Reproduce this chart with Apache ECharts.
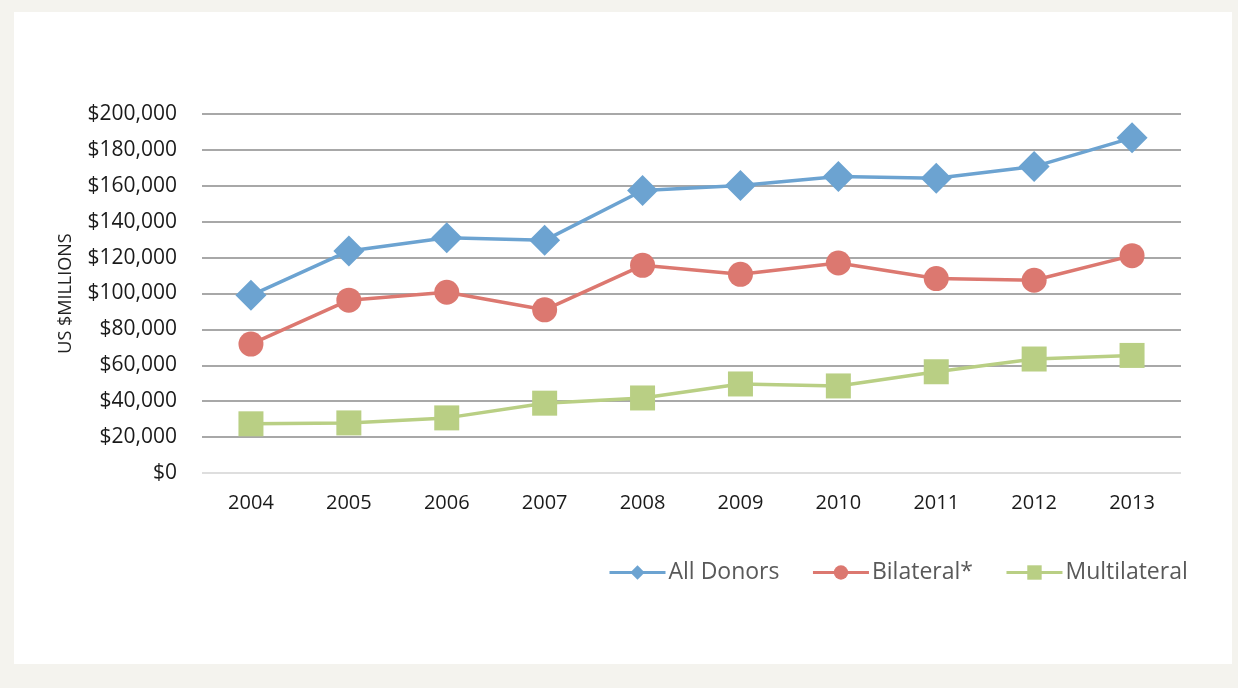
<!DOCTYPE html>
<html>
<head>
<meta charset="utf-8">
<title>Aid by donor type, 2004–2013</title>
<script src="https://cdn.jsdelivr.net/npm/echarts@6/dist/echarts.min.js"></script>
<style>
  html, body { margin: 0; padding: 0; width: 1238px; height: 688px; background: #f4f3ee; overflow: hidden; }
  #panel { position: absolute; left: 14px; top: 12px; width: 1218px; height: 652px; background: #ffffff; }
  #chart { position: absolute; left: 0; top: 0; width: 1238px; height: 688px; }
</style>
</head>
<body>
<div id="panel"></div>
<div id="chart"></div>
<script>
// Years on the category axis
const years = ['2004', '2005', '2006', '2007', '2008', '2009', '2010', '2011', '2012', '2013'];

// Totals in US $ millions
const allDonors    = [99000, 123700, 131100, 129600, 157400, 160200, 165200, 164200, 170700, 186700];
const bilateral    = [71800, 96300, 100700, 90900, 115700, 110700, 117000, 108300, 107400, 121100];
const multilateral = [27400, 27900, 30700, 38900, 41800, 49600, 48500, 56400, 63500, 65500];

// Value axis ticks
const yMin = 0;
const yMax = 200000;
const yStep = 20000;

const FONT = '"Open Sans", "Liberation Sans", sans-serif';

const gridColors = [];
for (let v = yMin; v <= yMax; v += yStep) {
  gridColors.push(v === 0 ? '#dedede' : '#a8a8a8');
}

const chart = echarts.init(document.getElementById('chart'), null, { renderer: 'canvas' });

function lineSeries(name, data, color, symbol, size) {
  return {
    name: name,
    type: 'line',
    data: data,
    symbol: symbol,
    symbolSize: size,
    showSymbol: true,
    lineStyle: { color: color, width: 3.5 },
    itemStyle: { color: color, borderWidth: 0 },
    emphasis: { disabled: true },
    animation: false,
    z: 3
  };
}

chart.setOption({
  backgroundColor: 'transparent',
  animation: false,
  textStyle: { fontFamily: FONT },
  grid: { left: 202, right: 57, top: 114, bottom: 215, containLabel: false },
  xAxis: {
    type: 'category',
    data: years,
    boundaryGap: true,
    axisLine: { show: false },
    axisTick: { show: false },
    axisLabel: { color: '#1a1a1a', fontSize: 20, fontFamily: FONT, margin: 20 }
  },
  yAxis: {
    type: 'value',
    min: yMin,
    max: yMax,
    interval: yStep,
    name: 'US $MILLIONS',
    nameLocation: 'middle',
    nameGap: 127,
    nameRotate: 90,
    nameTextStyle: { color: '#222222', fontSize: 18, fontFamily: FONT },
    axisLine: { show: false },
    axisTick: { show: false },
    axisLabel: {
      color: '#1a1a1a',
      fontSize: 21,
      fontFamily: FONT,
      margin: 25,
      formatter: function (v) { return '$' + v.toLocaleString('en-US'); }
    },
    splitLine: { show: true, lineStyle: { color: gridColors, width: 2 } }
  },
  legend: {
    left: 603,
    top: 556,
    itemWidth: 56,
    itemHeight: 18,
    itemGap: 32,
    lineStyle: { width: 3 },
    textStyle: { color: '#595959', fontSize: 23, fontFamily: FONT, padding: [0, 0, 0, -2] },
    data: ['All Donors', 'Bilateral*', 'Multilateral']
  },
  series: [
    lineSeries('All Donors', allDonors, '#6ca3d1', 'diamond', 31),
    lineSeries('Bilateral*', bilateral, '#dc7870', 'circle', 25),
    lineSeries('Multilateral', multilateral, '#b9cf84', 'rect', 25)
  ]
});
</script>
</body>
</html>
